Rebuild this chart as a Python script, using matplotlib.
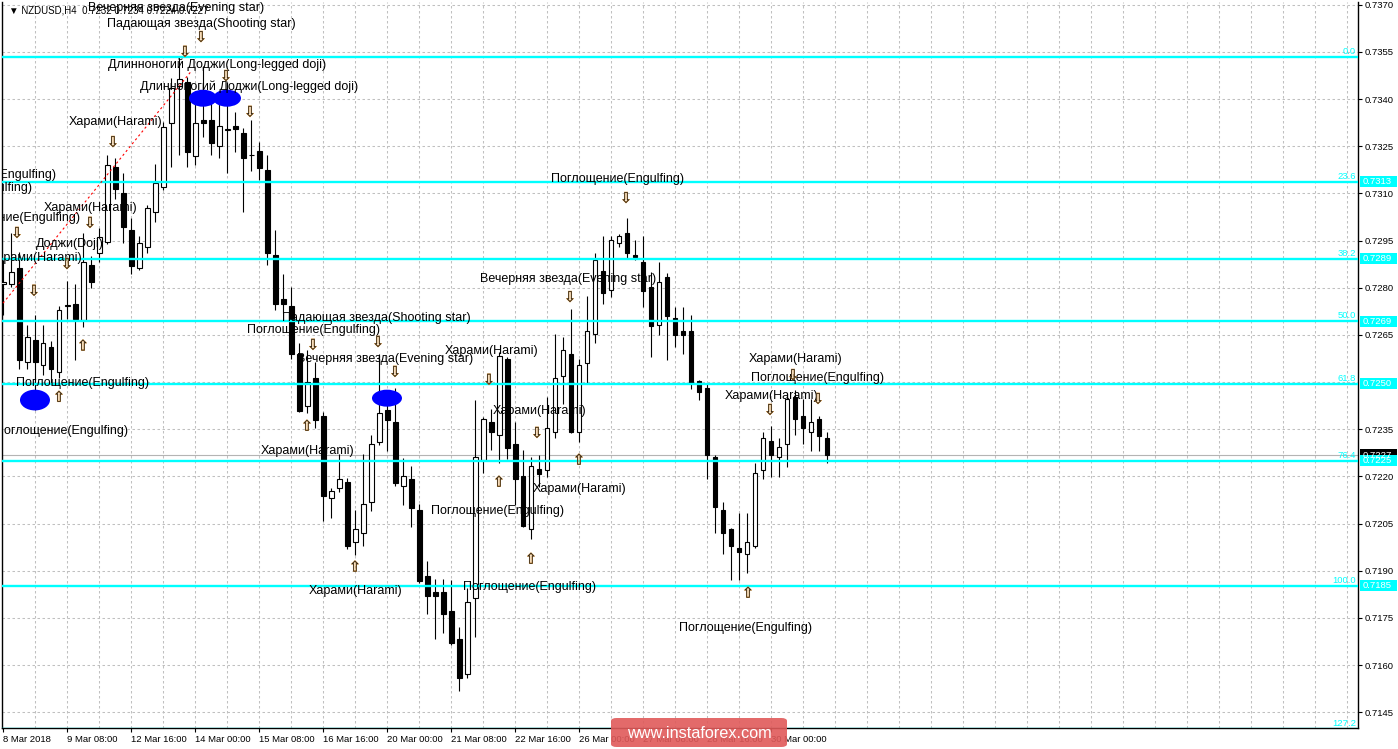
import matplotlib
matplotlib.use('Agg')
import matplotlib.pyplot as plt
from matplotlib.patches import Rectangle, Ellipse, FancyBboxPatch
import matplotlib.transforms as mtransforms
import matplotlib.patheffects as pe
import numpy as np

plt.rcParams['font.family'] = ['Liberation Sans', 'DejaVu Sans']

# ---------------- data (NZDUSD H4) ----------------
opens = [0.72812, 0.72811, 0.72862, 0.72563, 0.72634, 0.72554, 0.72611, 0.72531, 0.72742, 0.72750,
         0.72697, 0.72872, 0.72911, 0.72946, 0.73183, 0.73103, 0.72984, 0.72862, 0.72930, 0.73042,
         0.73121, 0.73323, 0.73441, 0.73455, 0.73220, 0.73333, 0.73333, 0.73252, 0.73302, 0.73314,
         0.73293, 0.73223, 0.73235, 0.73174, 0.72904, 0.72764, 0.72742, 0.72591, 0.72424, 0.72512,
         0.72392, 0.72130, 0.72162, 0.72181, 0.71990, 0.72021, 0.72120, 0.72310, 0.72411, 0.72374,
         0.72170, 0.72192, 0.72093, 0.71883, 0.71833, 0.71833, 0.71772, 0.71683, 0.71571, 0.71812,
         0.72252, 0.72374, 0.72332, 0.72573, 0.72303, 0.72201, 0.72032, 0.72224, 0.72222, 0.72340,
         0.72521, 0.72591, 0.72340, 0.72562, 0.72653, 0.72853, 0.72793, 0.72941, 0.72975, 0.72904,
         0.72882, 0.72803, 0.72681, 0.72833, 0.72703, 0.72662, 0.72662, 0.72504, 0.72482, 0.72261,
         0.72093, 0.72032, 0.71971, 0.71952, 0.71980, 0.72222, 0.72313, 0.72261, 0.72302, 0.72452,
         0.72392, 0.72340, 0.72382, 0.72321]
highs = [0.72888, 0.72974, 0.72915, 0.72681, 0.72715, 0.72681, 0.72632, 0.72743, 0.72821, 0.72811,
         0.72973, 0.72901, 0.72989, 0.73222, 0.73212, 0.73164, 0.73021, 0.72964, 0.73063, 0.73195,
         0.73327, 0.73466, 0.73534, 0.73470, 0.73422, 0.73505, 0.73403, 0.73403, 0.73455, 0.73360,
         0.73307, 0.73333, 0.73264, 0.73222, 0.72984, 0.72843, 0.72801, 0.72623, 0.72602, 0.72565,
         0.72406, 0.72164, 0.72270, 0.72194, 0.72093, 0.72270, 0.72332, 0.72591, 0.72475, 0.72480,
         0.72259, 0.72233, 0.72112, 0.71932, 0.71873, 0.71873, 0.71871, 0.71722, 0.71844, 0.72443,
         0.72390, 0.72413, 0.72597, 0.72581, 0.72374, 0.72284, 0.72261, 0.72268, 0.72453, 0.72652,
         0.72644, 0.72732, 0.72572, 0.72774, 0.72910, 0.72964, 0.72964, 0.72971, 0.73021, 0.72952,
         0.72964, 0.72851, 0.72883, 0.72846, 0.72740, 0.72740, 0.72713, 0.72507, 0.72498, 0.72268,
         0.72120, 0.72036, 0.72083, 0.72083, 0.72242, 0.72340, 0.72361, 0.72321, 0.72464, 0.72475,
         0.72445, 0.72445, 0.72392, 0.72340]
lows = [0.72713, 0.72803, 0.72541, 0.72541, 0.72411, 0.72522, 0.72496, 0.72512, 0.72700, 0.72570,
        0.72676, 0.72800, 0.72883, 0.72939, 0.73081, 0.72941, 0.72843, 0.72856, 0.72911, 0.73009,
        0.73111, 0.73183, 0.73222, 0.73183, 0.73190, 0.73279, 0.73222, 0.73212, 0.73164, 0.73233,
        0.73042, 0.73171, 0.73143, 0.72872, 0.72729, 0.72720, 0.72572, 0.72405, 0.72401, 0.72353,
        0.72058, 0.72069, 0.72151, 0.71969, 0.71950, 0.71980, 0.72091, 0.72300, 0.72281, 0.72169,
        0.72109, 0.72040, 0.71861, 0.71761, 0.71682, 0.71701, 0.71664, 0.71518, 0.71560, 0.71690,
        0.72210, 0.72284, 0.72242, 0.72254, 0.72109, 0.72039, 0.72000, 0.72167, 0.72197, 0.72321,
        0.72430, 0.72338, 0.72310, 0.72498, 0.72624, 0.72750, 0.72771, 0.72930, 0.72894, 0.72888,
        0.72740, 0.72581, 0.72650, 0.72570, 0.72612, 0.72591, 0.72477, 0.72443, 0.72191, 0.72021,
        0.71952, 0.71871, 0.71871, 0.71892, 0.71971, 0.72191, 0.72199, 0.72199, 0.72231, 0.72332,
        0.72302, 0.72282, 0.72282, 0.72242]
closes = [0.72819, 0.72851, 0.72570, 0.72642, 0.72563, 0.72623, 0.72541, 0.72731, 0.72744, 0.72701,
          0.72881, 0.72819, 0.72962, 0.73192, 0.73113, 0.72992, 0.72870, 0.72941, 0.73053, 0.73132,
          0.73312, 0.73434, 0.73463, 0.73233, 0.73323, 0.73325, 0.73262, 0.73314, 0.73304, 0.73304,
          0.73212, 0.73221, 0.73182, 0.72911, 0.72750, 0.72750, 0.72591, 0.72409, 0.72501, 0.72379,
          0.72139, 0.72154, 0.72191, 0.71980, 0.72032, 0.72111, 0.72302, 0.72403, 0.72379, 0.72180,
          0.72201, 0.72100, 0.71868, 0.71820, 0.71820, 0.71761, 0.71669, 0.71560, 0.71800, 0.72261,
          0.72382, 0.72340, 0.72583, 0.72291, 0.72191, 0.72042, 0.72233, 0.72208, 0.72353, 0.72512,
          0.72602, 0.72340, 0.72554, 0.72662, 0.72890, 0.72782, 0.72952, 0.72964, 0.72911, 0.72897,
          0.72791, 0.72679, 0.72819, 0.72711, 0.72650, 0.72650, 0.72498, 0.72469, 0.72268, 0.72102,
          0.72021, 0.71980, 0.71961, 0.71990, 0.72210, 0.72321, 0.72268, 0.72293, 0.72446, 0.72382,
          0.72353, 0.72372, 0.72329, 0.72268]

x_tick_bars = [0, 8, 16, 24, 32, 40, 48, 56, 64, 72, 80, 88, 96]
x_tick_labels = ['8 Mar 2018', '9 Mar 08:00', '12 Mar 16:00', '14 Mar 00:00', '15 Mar 08:00',
                 '16 Mar 16:00', '20 Mar 00:00', '21 Mar 08:00', '22 Mar 16:00', '26 Mar 00:00',
                 '27 Mar 08:00', '28 Mar 16:00', '30 Mar 00:00']
y_ticks = [0.7145, 0.7160, 0.7175, 0.7190, 0.7205, 0.7220, 0.7235, 0.7250, 0.7265, 0.7280,
           0.7295, 0.7310, 0.7325, 0.7340, 0.7355, 0.7370]
y_tick_shown = [0.7145, 0.7160, 0.7175, 0.7190, 0.7205, 0.7220, 0.7235, 0.7265, 0.7280,
                0.7295, 0.7310, 0.7325, 0.7340, 0.7355, 0.7370]

fib_high = 0.73535
fib_low = 0.71853
fib_levels = [0.0, 23.6, 38.2, 50.0, 61.8, 76.4, 100.0, 127.2]
fib_level_text = ['0.0', '23.6', '38.2', '50.0', '61.8', '76.4', '100.0', '127.2']
fib_price_text = [None, '0.7313', '0.7289', '0.7269', '0.7250', '0.7225', '0.7185', None]

current_price = closes[-1]
current_price_text = '0.7227'
header_text = '\u25BC NZDUSD,H4  0.7232 0.7234 0.7224 0.7227'

# candlestick-pattern captions (bar position, price, alignment)
cap_text = ['Вечерняя звезда(Evening star)', 'Падающая звезда(Shooting star)',
            'Длинноногий Доджи(Long-legged doji)', 'Длинноногий Доджи(Long-legged doji)',
            'Харами(Harami)', 'Поглощение(Engulfing)', 'Поглощение(Engulfing)',
            'Поглощение(Engulfing)', 'Харами(Harami)', 'Доджи(Doji)', 'Харами(Harami)',
            'Поглощение(Engulfing)', 'Поглощение(Engulfing)',
            'Падающая звезда(Shooting star)', 'Поглощение(Engulfing)',
            'Вечерняя звезда(Evening star)', 'Харами(Harami)', 'Харами(Harami)',
            'Харами(Harami)', 'Харами(Harami)', 'Харами(Harami)', 'Поглощение(Engulfing)',
            'Поглощение(Engulfing)', 'Вечерняя звезда(Evening star)', 'Поглощение(Engulfing)',
            'Харами(Harami)', 'Поглощение(Engulfing)', 'Харами(Harami)', 'Поглощение(Engulfing)']
cap_x = [10.6, 12.97, 13.09, 17.09, 8.21, 6.59, 3.59, 9.59, 5.09, 4.09, 9.84, 1.59, 15.59,
         34.84, 30.46, 36.71, 32.21, 38.21, 55.21, 61.21, 66.21, 53.46, 57.46, 59.59, 68.46,
         93.21, 93.46, 90.21, 84.46]
cap_y = [0.73690, 0.73639, 0.73508, 0.73441, 0.73327, 0.73158, 0.73117, 0.73022, 0.73054,
         0.72939, 0.72895, 0.72497, 0.72344, 0.72704, 0.72666, 0.72573, 0.72281, 0.71836,
         0.72599, 0.72408, 0.72160, 0.72090, 0.71848, 0.72828, 0.73146, 0.72573, 0.72513,
         0.72456, 0.71718]
cap_ha = ['left', 'left', 'left', 'left', 'left', 'right', 'right', 'right', 'left', 'left',
          'right', 'left', 'right', 'left', 'left', 'left', 'left', 'left', 'left', 'left',
          'left', 'left', 'left', 'left', 'left', 'left', 'left', 'left', 'left']

down_x = [24.71, 22.71, 27.84, 30.84, 13.71, 1.71, 10.84, 7.96, 3.84, 38.71, 46.84, 48.96,
          60.71, 66.71, 70.84, 77.84, 98.71, 95.84, 101.84]
down_y = [0.73597, 0.73550, 0.73473, 0.73359, 0.73263, 0.72974, 0.73006, 0.72875, 0.72790,
          0.72618, 0.72627, 0.72532, 0.72507, 0.72338, 0.72770, 0.73085, 0.72522, 0.72411,
          0.72446]
up_x = [9.96, 6.96, 37.96, 43.96, 61.96, 71.96, 65.96, 93.09]
up_y = [0.72615, 0.72452, 0.72360, 0.71912, 0.72182, 0.72252, 0.71937, 0.71829]

ell_x = [3.96, 24.96, 27.96, 47.96]
ell_y = [0.72443, 0.73403, 0.73403, 0.72449]
ell_w = [3.75, 3.5, 3.5, 3.75]
ell_h = [0.00066, 0.00054, 0.00054, 0.00054]

trend_x = [-0.04, 23.59]
trend_y = [0.72751, 0.73492]

# ---------------- figure ----------------
W, H = 1398, 749
fig = plt.figure(figsize=(W / 100, H / 100), dpi=100)
fig.patch.set_facecolor('white')
ax = fig.add_axes([2.3 / W, 21 / H, 1356 / W, 726 / H])
ax.set_facecolor('white')

# grid
grid_kw = dict(color='#C0C0C0', lw=0.75, dashes=(2.4, 2.4), zorder=0.5)
for yt in y_ticks:
    ax.axhline(yt, **grid_kw)
for xv in np.arange(4, 170, 4):
    ax.axvline(xv, **grid_kw)

# current price line
ax.axhline(current_price, color='#B4B4B4', lw=0.8, zorder=1)

# candles
bw = 0.55
for i, (o, h, l, c) in enumerate(zip(opens, highs, lows, closes)):
    ax.vlines(i, l, h, color='black', lw=0.8, zorder=3)
    bottom = min(o, c)
    height = max(abs(c - o), 0.000004)
    face = 'white' if c >= o else 'black'
    ax.add_patch(Rectangle((i - bw / 2, bottom), bw, height, facecolor=face,
                           edgecolor='black', lw=0.8, zorder=4))

# fibonacci levels
fib_prices = [fib_high - lv / 100.0 * (fib_high - fib_low) for lv in fib_levels]
for p in fib_prices:
    ax.axhline(p, color='#00FFFF', lw=1.7, zorder=5)

# trend line
ax.plot(trend_x, trend_y, color='red', lw=0.8, ls=(0, (2, 2.5)), zorder=5)

# ellipses
for ex, ey, ew, eh in zip(ell_x, ell_y, ell_w, ell_h):
    ax.add_patch(Ellipse((ex, ey), ew, eh, facecolor='#0000FF', edgecolor='none', zorder=6))

# captions
for t, x, y, ha in zip(cap_text, cap_x, cap_y, cap_ha):
    ax.text(x, y, t, fontsize=9, ha=ha, va='center', color='black', zorder=8,
            clip_on=True)

# arrows (hollow, dark outline with an orange tint)
arrow_fx = [pe.withStroke(linewidth=0.5, foreground='#E8A040')]
for x, y in zip(down_x, down_y):
    ax.text(x, y, '\u21E9', fontsize=10.5, family='DejaVu Sans', ha='center', va='center',
            color='#1A1A1A', zorder=8, path_effects=arrow_fx)
for x, y in zip(up_x, up_y):
    ax.text(x, y, '\u21E7', fontsize=10.5, family='DejaVu Sans', ha='center', va='center',
            color='#1A1A1A', zorder=8, path_effects=arrow_fx)

# header
ax.text(7 / 1356, 0.7370 - 5.3 * 0.0000318, header_text, fontsize=7,
        family=['Liberation Sans', 'DejaVu Sans'], ha='left', va='center',
        transform=mtransforms.blended_transform_factory(ax.transAxes, ax.transData),
        zorder=7, color='black')

# axes limits
ax.set_xlim(-0.125, 169.375)
ax.set_ylim(0.71400, 0.73709)

# right-side labels
trans = mtransforms.blended_transform_factory(fig.transFigure, ax.transData)
for lt, p in zip(fib_level_text, fib_prices):
    ax.text(1356 / W, p + 0.00003, lt, transform=trans, fontsize=6.8, color='#00FFFF',
            ha='right', va='bottom', zorder=9, clip_on=False)

hh = 0.000178
ax.add_patch(Rectangle((1360 / W, current_price - hh), 37 / W, 2 * hh, transform=trans,
                       facecolor='black', edgecolor='none', zorder=10, clip_on=False))
ax.text(1363 / W, current_price, current_price_text, transform=trans, fontsize=6.8,
        color='white', ha='left', va='center', zorder=11, clip_on=False)
for pt, p in zip(fib_price_text, fib_prices):
    if pt is None:
        continue
    ax.add_patch(Rectangle((1360 / W, p - hh), 37 / W, 2 * hh, transform=trans,
                           facecolor='#00FFFF', edgecolor='none', zorder=10, clip_on=False))
    ax.text(1363 / W, p, pt, transform=trans, fontsize=6.8, color='white',
            ha='left', va='center', zorder=11, clip_on=False)

# ticks
ax.yaxis.tick_right()
ax.set_yticks(y_tick_shown)
ax.set_yticklabels(['%.4f' % v for v in y_tick_shown])
ax.set_xticks(x_tick_bars)
ax.set_xticklabels(x_tick_labels, ha='left')
ax.tick_params(axis='y', direction='out', length=3, width=0.8, pad=1.5, labelsize=6.8,
               colors='black')
ax.tick_params(axis='x', direction='out', length=3, width=0.8, pad=2, labelsize=6.8,
               colors='black')
for s in ['left', 'right', 'bottom']:
    ax.spines[s].set_color('black')
    ax.spines[s].set_linewidth(1.0)
ax.spines['top'].set_visible(False)

# watermark
fig.add_artist(FancyBboxPatch((611 / W, 2 / H), 176 / W, 29 / H,
                              boxstyle='round,pad=0,rounding_size=0.004',
                              transform=fig.transFigure, facecolor='#E05A5A',
                              edgecolor='none', alpha=0.9, zorder=20))
fig.text(699 / W, (749 - 734) / H, 'www.instaforex.com', fontsize=11.7, color='white',
         ha='center', va='center', zorder=21)

fig.savefig('out.png', dpi=100)
